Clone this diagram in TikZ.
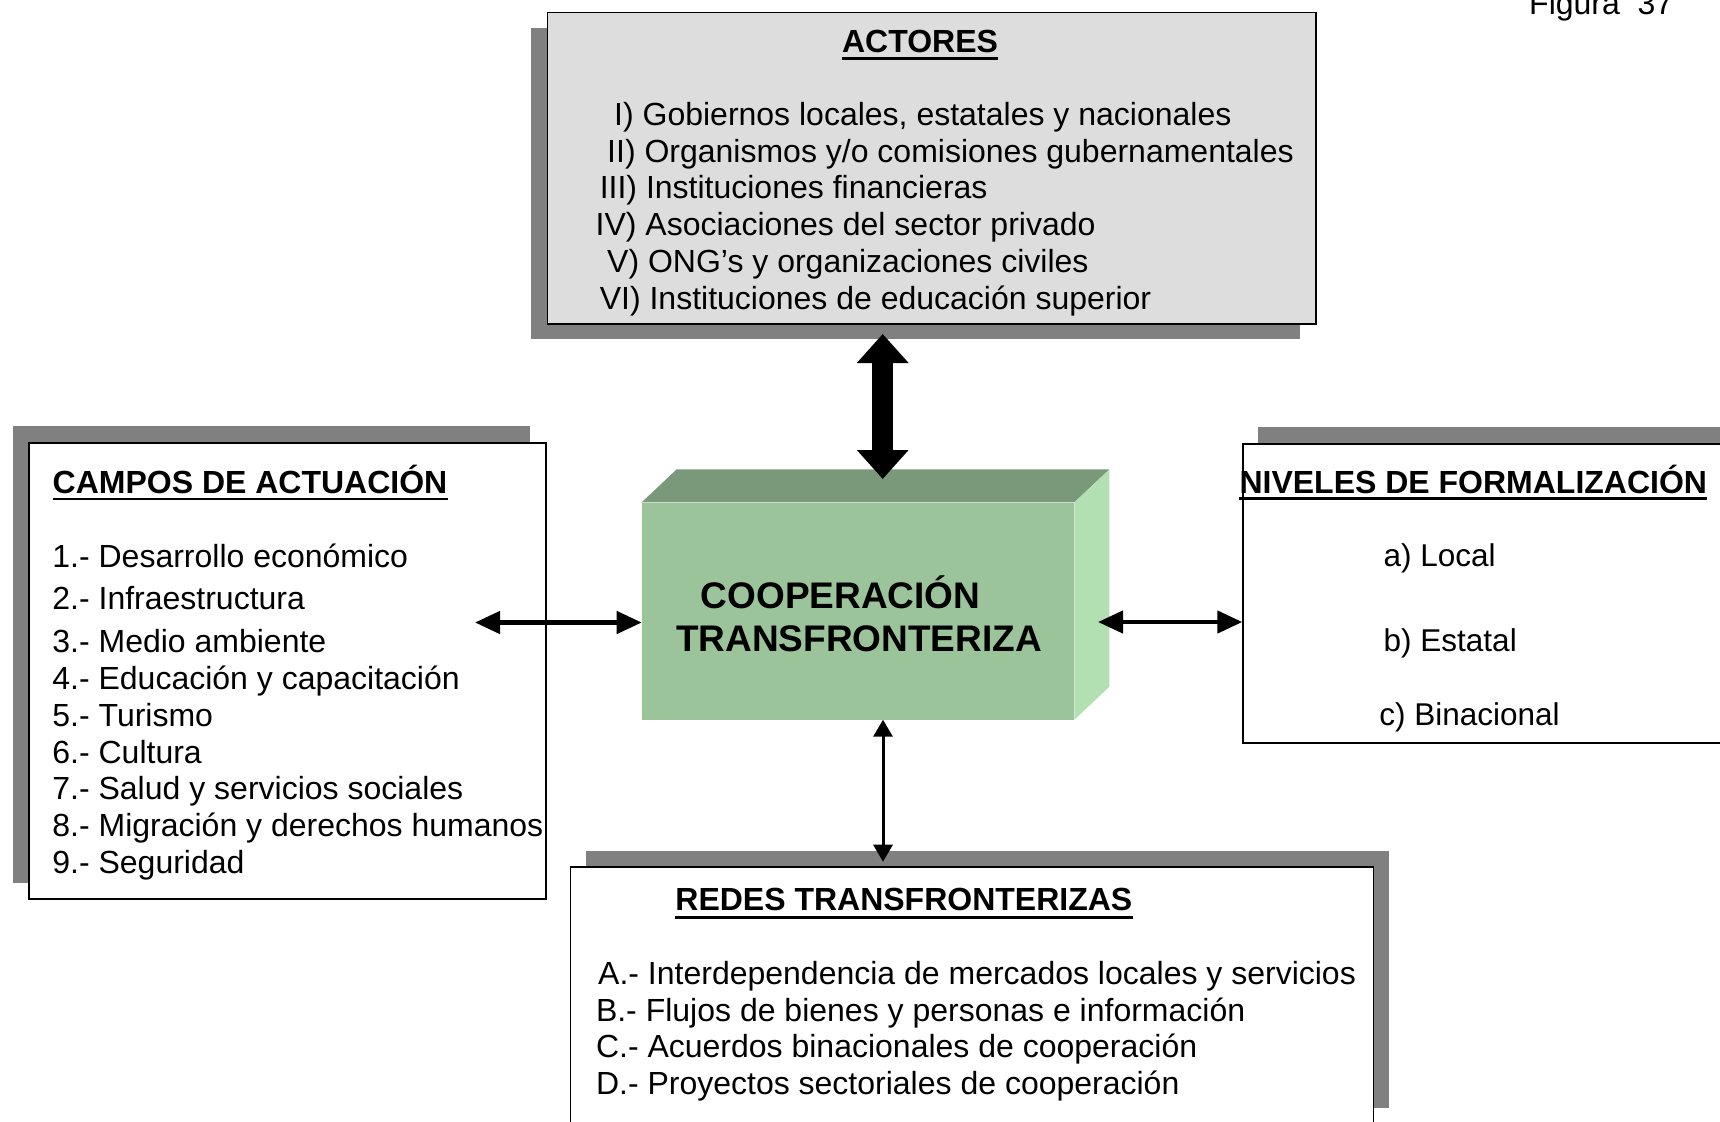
\documentclass[tikz,border=0pt]{standalone}
\usepackage{fontspec}
\setmainfont{Liberation Sans}
\usetikzlibrary{arrows.meta}
\definecolor{shadowc}{RGB}{128,128,128}
\definecolor{actfill}{RGB}{221,221,221}
\definecolor{gfront}{RGB}{155,196,155}
\definecolor{gtop}{RGB}{122,153,122}
\definecolor{gside}{RGB}{178,224,178}
\begin{document}
\begin{tikzpicture}[x=1pt,y=-1pt,
  box/.style={draw=black, line width=1.8pt, inner sep=0pt, anchor=north west},
  txt/.style={font=\fontsize{32}{38}\selectfont, inner sep=0pt, anchor=base west},
  ntxt/.style={font=\fontsize{31.5}{37}\selectfont, inner sep=0pt, anchor=base west},
  ttl/.style={font=\fontsize{32}{38}\selectfont\bfseries, inner sep=0pt, anchor=base west},
  ctr/.style={font=\fontsize{37}{44}\selectfont\bfseries, inner sep=0pt, anchor=base},
  ul/.style={line width=2.6pt},
  bigarr/.style={line width=21pt, {Triangle[width=50pt,length=29pt]}-{Triangle[width=50pt,length=29pt]}},
  midarr/.style={line width=4.5pt, {Triangle[width=22pt,length=25pt]}-{Triangle[width=22pt,length=25pt]}},
  smallarr/.style={line width=3pt, {Triangle[width=19pt,length=17pt]}-{Triangle[width=19pt,length=17pt]}}
]
\clip (0,0) rectangle (1720,1121);
\fill[white] (0,0) rectangle (1720,1121);

% ---------- shadows ----------
\fill[shadowc] (531,27.7) rectangle (1299.5,339.3);
\fill[shadowc] (12.7,426.2) rectangle (529.5,882.8);
\fill[shadowc] (1258.3,427.2) rectangle (1756,726.2);
\fill[shadowc] (585.6,851) rectangle (1388.5,1108);

% ---------- boxes ----------
\node[box, fill=actfill, minimum width=768.5pt, minimum height=311.6pt] (actores) at (546.5,11.7) {};
\node[box, fill=white, minimum width=516.8pt, minimum height=456.6pt] (campos) at (28.2,441.7) {};
\node[box, fill=white, minimum width=497.7pt, minimum height=299pt] (niveles) at (1242.3,442.7) {};
\node[box, fill=white, minimum width=802.9pt, minimum height=257pt] (redes) at (569.6,866) {};

% ---------- green block ----------
\node[fill=gfront, inner sep=0pt, anchor=north west, minimum width=432.3pt, minimum height=217pt] (coop) at (641.7,502.3) {};
\fill[gtop] (coop.north west) -- ++(35,-33) -- ([shift={(35pt,33pt)}]coop.north east) -- (coop.north east) -- cycle;
\fill[gside] (coop.north east) -- ++(35,-33) -- ([shift={(35pt,33pt)}]coop.south east) -- (coop.south east) -- cycle;
\node[ctr] (coopA) at (840.5,608) {COOPERACIÓN};
\node[ctr] (coopB) at (859,651.7) {TRANSFRONTERIZA};

% ---------- ACTORES text ----------
\node[ttl, anchor=base] (actT) at (920,52.8) {ACTORES};
\draw[ul] ([yshift=-6pt]actT.base west) -- ([yshift=-6pt]actT.base east);
\node[txt] (act1) at (614,125.5) {I) Gobiernos locales, estatales y nacionales};
\node[txt] (act2) at (607,162.2) {II) Organismos y/o comisiones gubernamentales};
\node[txt] (act3) at (599.6,198.8) {III) Instituciones financieras};
\node[txt] (act4) at (595.5,235.8) {IV) Asociaciones del sector privado};
\node[txt] (act5) at (607,272.5) {V) ONG’s y organizaciones civiles};
\node[txt] (act6) at (599.6,309.2) {VI) Instituciones de educación superior};

% ---------- CAMPOS text ----------
\node[ttl] (camT) at (52.5,493.5) {CAMPOS DE ACTUACIÓN};
\draw[ul] ([yshift=-5.5pt]camT.base west) -- ([yshift=-5.5pt]camT.base east);
\node[txt] (cam1) at (52.2,567.8) {1.- Desarrollo económico};
\node[txt] (cam2) at (52.2,609.5) {2.- Infraestructura};
\node[txt] (cam3) at (52.2,652.8) {3.- Medio ambiente};
\node[txt] (cam4) at (52.2,689.5) {4.- Educación y capacitación};
\node[txt] (cam5) at (52.2,726.2) {5.- Turismo};
\node[txt] (cam6) at (52.2,763.2) {6.- Cultura};
\node[txt] (cam7) at (52.2,799.8) {7.- Salud y servicios sociales};
\node[txt] (cam8) at (52.2,836.5) {8.- Migración y derechos humanos};
\node[txt] (cam9) at (52.2,873.5) {9.- Seguridad};

% ---------- NIVELES text ----------
\node[ttl] (nivT) at (1239.3,493.3) {NIVELES DE FORMALIZACIÓN};
\draw[ul] ([yshift=-5pt]nivT.base west) -- ([yshift=-5pt]nivT.base east);
\node[ntxt] (niv1) at (1383.5,566.7) {a) Local};
\node[ntxt] (niv2) at (1383.5,651.7) {b) Estatal};
\node[ntxt] (niv3) at (1379.2,725.8) {c) Binacional};

% ---------- REDES text ----------
\node[ttl] (redT) at (675.2,910.8) {REDES TRANSFRONTERIZAS};
\draw[ul] ([yshift=-6.5pt]redT.base west) -- ([yshift=-6.5pt]redT.base east);
\node[txt] (red1) at (598,984.3) {A.- Interdependencia de mercados locales y servicios};
\node[txt] (red2) at (595.8,1021) {B.- Flujos de bienes y personas e información};
\node[txt] (red3) at (595.8,1057.6) {C.- Acuerdos binacionales de cooperación};
\node[txt] (red4) at (595.8,1094.3) {D.- Proyectos sectoriales de cooperación};

% ---------- figure label ----------
\node[txt] (fig) at (1529,15) {Figura\ \ 37};

% ---------- connectors ----------
\coordinate (upTip) at (882.7,334);
\coordinate (upEnd) at (882.7,479);
\draw[bigarr] (upTip) -- (upEnd);

\coordinate (leftTip) at (475,622.5);
\draw[midarr] (leftTip) -- (coop.west |- leftTip);

\coordinate (rightTip) at (1098,622);
\draw[midarr] (rightTip) -- (niveles.west |- rightTip);

\coordinate (downTip) at (883,861.7);
\draw[smallarr] (coop.south -| downTip) -- (downTip);
\end{tikzpicture}
\end{document}
